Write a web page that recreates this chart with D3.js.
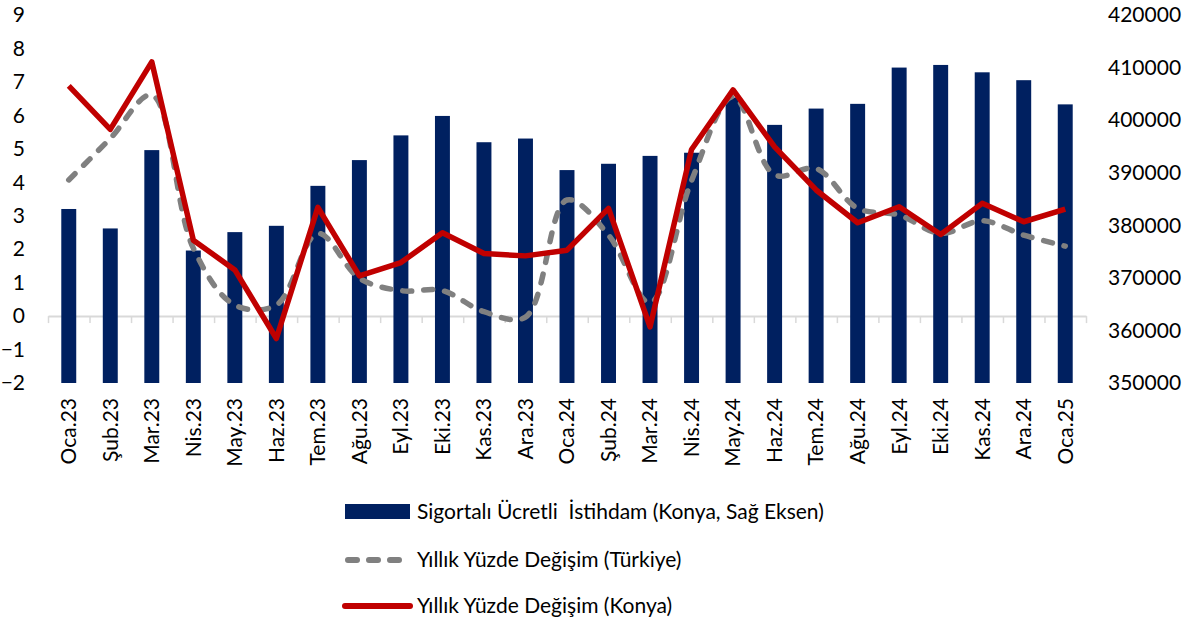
<!DOCTYPE html>
<html>
<head>
<meta charset="utf-8">
<script src="https://cdn.jsdelivr.net/npm/d3@7"></script>
<style>
  body { margin: 0; background: #fff; }
  text { font-family: Lato, "Open Sans", sans-serif; fill: #000; }
</style>
</head>
<body>
<div id="chart"></div>
<script>
var months = ["Oca.23", "Şub.23", "Mar.23", "Nis.23", "May.23", "Haz.23", "Tem.23", "Ağu.23", "Eyl.23", "Eki.23", "Kas.23", "Ara.23",
    "Oca.24", "Şub.24", "Mar.24", "Nis.24", "May.24", "Haz.24", "Tem.24", "Ağu.24", "Eyl.24", "Eki.24", "Kas.24", "Ara.24", "Oca.25"];

// Sigortalı ücretli istihdam, Konya (right axis)
var employment = [383100, 379400, 394300, 375200, 378700, 379900, 387500, 392400, 397100, 400800, 395800, 396500,
    390500, 391700, 393200, 393800, 404300, 399100, 402200, 403100, 410000, 410500, 409100, 407600, 403000];

// yıllık % değişim
var turkiye = [4.07, 5.31, 6.61, 2.03, 0.33, 0.33, 2.47, 1.13, 0.76, 0.76, 0.13, -0.03,
    3.47, 2.42, 0.40, 4.05, 6.56, 4.22, 4.41, 3.22, 3.02, 2.47, 2.85, 2.42, 2.09];
var konya = [6.88, 5.58, 7.60, 2.27, 1.38, -0.67, 3.25, 1.20, 1.60, 2.49, 1.87, 1.80,
    1.97, 3.22, -0.32, 4.98, 6.76, 5.06, 3.77, 2.79, 3.27, 2.44, 3.37, 2.82, 3.20];

var leftTicks = [-2, -1, 0, 1, 2, 3, 4, 5, 6, 7, 8, 9];
var rightTicks = [350000, 360000, 370000, 380000, 390000, 400000, 410000, 420000];

var legendLabels = ["Sigortalı Ücretli  İstihdam (Konya, Sağ Eksen)", "Yıllık Yüzde Değişim (Türkiye)", "Yıllık Yüzde Değişim (Konya)"];

var W = 1185, H = 621;
var plot = { left: 48, right: 1086, top: 15, bottom: 383 };

var svg = d3.select("#chart").append("svg")
    .attr("width", W)
    .attr("height", H);

var x = d3.scaleBand()
    .domain(months)
    .range([plot.left, plot.right])
    .paddingInner(0.64)
    .paddingOuter(0.32);

var yL = d3.scaleLinear().domain([-2, 9]).range([plot.bottom, plot.top]);
var yR = d3.scaleLinear().domain([350000, 420000]).range([plot.bottom, plot.top]);

var cx = function(d, i) { return x(months[i]) + x.bandwidth() / 2; };

// zero line with category ticks
var edge = d3.scaleLinear().domain([0, months.length]).range([plot.left, plot.right]);
var zeroAxis = svg.append("g")
    .attr("transform", "translate(0," + yL(0) + ")")
    .call(d3.axisBottom(edge).tickValues(d3.range(months.length + 1)).tickFormat("").tickSizeInner(7).tickSizeOuter(0));
zeroAxis.select(".domain").attr("stroke", "#d9d9d9").attr("stroke-width", 2);
zeroAxis.selectAll(".tick line").attr("stroke", "#d9d9d9").attr("stroke-width", 1.5);

// bars
svg.selectAll(".bar")
    .data(employment)
    .enter().append("rect")
    .attr("class", "bar")
    .attr("x", function(d, i) { return x(months[i]); })
    .attr("y", function(d) { return yR(d); })
    .attr("width", x.bandwidth())
    .attr("height", function(d) { return plot.bottom - yR(d); })
    .attr("fill", "#002060");

// Türkiye line (dashed, smoothed)
svg.append("path")
    .datum(turkiye)
    .attr("fill", "none")
    .attr("stroke", "#808080")
    .attr("stroke-width", 5.5)
    .attr("stroke-dasharray", "9,12")
    .attr("stroke-linecap", "round")
    .attr("d", d3.line().x(cx).y(function(d) { return yL(d); }).curve(d3.curveCatmullRom));

// Konya line
svg.append("path")
    .datum(konya)
    .attr("fill", "none")
    .attr("stroke", "#c00000")
    .attr("stroke-width", 5.5)
    .attr("stroke-linejoin", "round")
    .attr("d", d3.line().x(cx).y(function(d) { return yL(d); }));

// left axis
var axL = svg.append("g")
    .attr("transform", "translate(25,0)")
    .call(d3.axisLeft(yL).tickValues(leftTicks).tickFormat(d3.format("d")).tickSize(0).tickPadding(0));
axL.select(".domain").remove();
axL.selectAll("text").style("font-size", "21px").style("font-family", "Lato, sans-serif").attr("fill", "#000");

// right axis
var axR = svg.append("g")
    .attr("transform", "translate(1108,0)")
    .call(d3.axisRight(yR).tickValues(rightTicks).tickFormat(d3.format("d")).tickSize(0).tickPadding(0));
axR.select(".domain").remove();
axR.selectAll("text").style("font-size", "21px").style("font-family", "Lato, sans-serif").attr("fill", "#000");

// month labels
svg.selectAll(".mlabel")
    .data(months)
    .enter().append("text")
    .attr("class", "mlabel")
    .attr("transform", function(d, i) { return "translate(" + cx(d, i) + ",398) rotate(-90)"; })
    .attr("text-anchor", "end")
    .attr("dy", "0.35em")
    .style("font-size", "21px")
    .text(function(d) { return d; });

// legend
var lg = svg.append("g");
lg.append("rect").attr("x", 345).attr("y", 504).attr("width", 65).attr("height", 15).attr("fill", "#002060");
lg.append("line").attr("x1", 348).attr("x2", 407).attr("y1", 560).attr("y2", 560)
    .attr("stroke", "#808080").attr("stroke-width", 6).attr("stroke-dasharray", "9,12").attr("stroke-linecap", "round");
lg.append("line").attr("x1", 345).attr("x2", 410).attr("y1", 606).attr("y2", 606)
    .attr("stroke", "#c00000").attr("stroke-width", 6).attr("stroke-linecap", "round");
lg.selectAll(".ltext")
    .data(legendLabels)
    .enter().append("text")
    .attr("class", "ltext")
    .attr("x", 417)
    .attr("y", function(d, i) { return [512, 560, 606][i]; })
    .attr("dy", "0.35em")
    .style("font-size", "21px")
    .style("white-space", "pre")
    .text(function(d) { return d; });
</script>
</body>
</html>
